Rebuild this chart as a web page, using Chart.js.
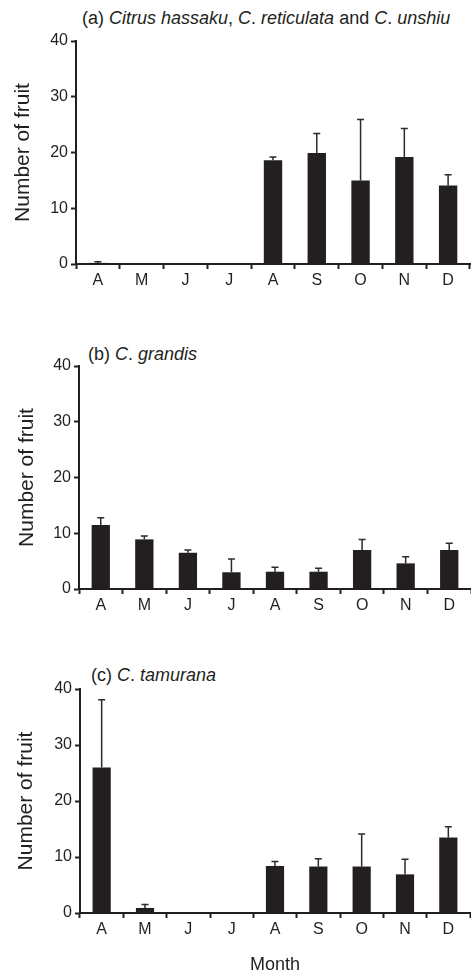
<!DOCTYPE html>
<html>
<head>
<meta charset="utf-8">
<script src="https://cdn.jsdelivr.net/npm/chart.js@4"></script>
<style>
  html, body { margin: 0; padding: 0; background: #fff; }
  body { width: 471px; height: 974px; position: relative; overflow: hidden; font-family: "Liberation Sans", Arial, sans-serif; }
  canvas { position: absolute; left: 0; }
  .ptitle { position: absolute; font-size: 18px; line-height: 18px; color: #231f20; white-space: nowrap; }
</style>
</head>
<body>
<div class="ptitle" id="ta" style="left:82px; top:9px;">(a) <i>Citrus hassaku</i>, <i>C</i>. <i>reticulata</i> and <i>C</i>. <i>unshiu</i></div>
<div class="ptitle" id="tb" style="left:88px; top:345px;">(b) <i>C</i>. <i>grandis</i></div>
<div class="ptitle" id="tc" style="left:91px; top:666px;">(c) <i>C</i>. <i>tamurana</i></div>
<canvas id="ca" width="471" height="300" style="top:0px"></canvas>
<canvas id="cb" width="471" height="320" style="top:300px"></canvas>
<canvas id="cc" width="471" height="354" style="top:620px"></canvas>
<script>
const months = ["A", "M", "J", "J", "A", "S", "O", "N", "D"];
const yTicks = [0, 10, 20, 30, 40];

const meanA = [0.2, 0, 0, 0, 18.6, 19.9, 15.0, 19.2, 14.1];
const errA  = [0.2, 0, 0, 0, 0.6, 3.5, 10.9, 5.1, 1.9];

const meanB = [11.5, 8.9, 6.5, 3.0, 3.1, 3.1, 7.0, 4.6, 7.0];
const errB  = [1.3, 0.6, 0.5, 2.4, 0.8, 0.6, 1.9, 1.2, 1.2];

const meanC = [26.0, 0.9, 0, 0, 8.4, 8.3, 8.3, 6.9, 13.5];
const errC  = [12.1, 0.6, 0, 0, 0.8, 1.4, 5.8, 2.7, 1.9];

const INK = "#231f20";

const errorBarPlugin = {
  id: "errorBars",
  afterDatasetsDraw(chart) {
    const errs = chart.options.plugins.errorBars.errors;
    const meta = chart.getDatasetMeta(0);
    const ys = chart.scales.y;
    const ctx = chart.ctx;
    const vals = chart.data.datasets[0].data;
    ctx.save();
    ctx.strokeStyle = "#2b2b2b";
    ctx.lineWidth = 1.5;
    meta.data.forEach((bar, i) => {
      const e = errs[i];
      if (!e) return;
      const y0 = ys.getPixelForValue(vals[i]);
      const y1 = ys.getPixelForValue(vals[i] + e);
      ctx.beginPath();
      ctx.moveTo(bar.x, y0);
      ctx.lineTo(bar.x, y1);
      ctx.moveTo(bar.x - 3.5, y1);
      ctx.lineTo(bar.x + 3.5, y1);
      ctx.stroke();
    });
    ctx.restore();
  }
};

function makeChart(id, values, errors, cfg) {
  const font = { family: "'Liberation Sans', Arial, sans-serif", size: 16 };
  return new Chart(document.getElementById(id), {
    type: "bar",
    data: {
      labels: months,
      datasets: [{
        data: values,
        backgroundColor: INK,
        borderColor: INK,
        borderWidth: 0,
        categoryPercentage: 1.0,
        barPercentage: 0.42
      }]
    },
    options: {
      responsive: false,
      animation: false,
      devicePixelRatio: 1,
      layout: { padding: { top: cfg.padTop, right: cfg.padRight, left: 0, bottom: 0 } },
      plugins: {
        legend: { display: false },
        tooltip: { enabled: false },
        title: { display: false },
        errorBars: { errors: errors }
      },
      scales: {
        x: {
          type: "category",
          offset: true,
          border: { display: true, color: INK, width: 2 },
          grid: {
            display: true, offset: true, drawOnChartArea: false, drawTicks: true,
            tickLength: 5, tickWidth: 2, tickColor: INK
          },
          ticks: { color: INK, font: font, padding: 2, maxRotation: 0, autoSkip: false },
          title: cfg.xTitle ? {
            display: true, text: "Month", color: INK,
            font: { family: "'Liberation Sans', Arial, sans-serif", size: 18, lineHeight: 1 },
            padding: { top: 0, bottom: 0 }
          } : { display: false },
          afterFit(scale) { scale.height = cfg.xHeight; }
        },
        y: {
          min: 0, max: 40,
          afterBuildTicks(scale) { scale.ticks = yTicks.map(v => ({ value: v })); },
          border: { display: true, color: INK, width: 2 },
          grid: {
            display: true, drawOnChartArea: false, drawTicks: true,
            tickLength: 5, tickWidth: 2, tickColor: INK
          },
          ticks: { color: INK, font: font, padding: 3 },
          title: {
            display: true, text: "Number of fruit", color: INK,
            font: { family: "'Liberation Sans', Arial, sans-serif", size: 21, lineHeight: 1 },
            padding: { top: cfg.yTitlePad, bottom: 0 }
          },
          afterFit(scale) { scale.width = cfg.yWidth; }
        }
      }
    },
    plugins: [errorBarPlugin]
  });
}

makeChart("ca", meanA, errA, { padTop: 41, padRight: 1, xHeight: 36, yWidth: 76, yTitlePad: 13 });
makeChart("cb", meanB, errB, { padTop: 66, padRight: 0, xHeight: 31, yWidth: 79, yTitlePad: 17 });
makeChart("cc", meanC, errC, { padTop: 69, padRight: 1, xHeight: 61, yWidth: 80, yTitlePad: 16, xTitle: true });
</script>
</body>
</html>
